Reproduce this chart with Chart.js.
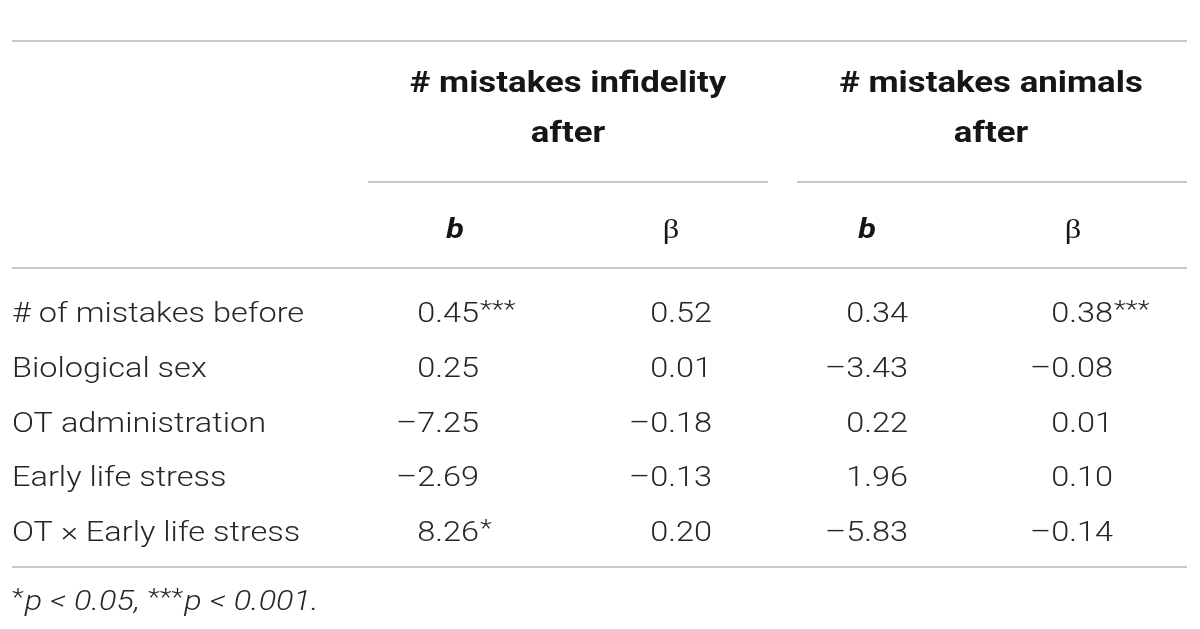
<!DOCTYPE html>
<html><head><meta charset="utf-8">
<script src="https://cdn.jsdelivr.net/npm/chart.js@4.4.1/dist/chart.umd.min.js"></script>
<style>html,body{margin:0;padding:0;background:#fff}#wrap{width:1200px;height:629px;position:relative}</style>
</head><body><div id="wrap"><canvas id="c"></canvas></div>
<script>
// ---------------- data ----------------
const rowLabels = ['# of mistakes before', 'Biological sex', 'OT administration', 'Early life stress', 'OT \u00d7 Early life stress'];
const groupTitles = ['# mistakes infidelity', '# mistakes animals'];
const groupSubtitles = ['after', 'after'];
const columnHeaders = ['b', '\u03b2', 'b', '\u03b2'];
const bInfidelity    = [0.45, 0.25, -7.25, -2.69, 8.26];
const betaInfidelity = [0.52, 0.01, -0.18, -0.13, 0.20];
const bAnimals       = [0.34, -3.43, 0.22, 1.96, -5.83];
const betaAnimals    = [0.38, -0.08, 0.01, 0.10, -0.14];
const sigBInfidelity    = ['***', '', '', '', '*'];
const sigBetaInfidelity = ['', '', '', '', ''];
const sigBAnimals       = ['', '', '', '', ''];
const sigBetaAnimals    = ['***', '', '', '', ''];
const footnoteParts = [['*', 'sup'], ['p < 0.05, ', 'it'], ['***', 'sup'], ['p < 0.001.', 'it']];

// ---------------- layout ----------------
const W = 1200, H = 629;
const colRight = [479, 712, 908, 1113];
const headCenter = [455, 671, 867, 1073];
const groupCenter = [568, 991];
const groupLine = [[368, 768], [797, 1187]];
const rowBase0 = 322, rowPitch = 54.8;
const labelX = 12;
const ruleY = { top: 41, group: 182, mid: 268, bottom: 567 };
const ruleX = [12, 1187];
const titleBase = 92, subtitleBase = 142, colHeadBase = 238, footBase = 610;

const SX = 1.16; // horizontal text stretch
const FONT_LIGHT = '300 28px Roboto';
const FONT_SUP = '300 24px Roboto';
const FONT_BOLD = '700 30px Roboto';
const FONT_B = 'italic 700 28px Roboto';
const FONT_BETA = '28px "Liberation Serif"';
const FONT_FOOT = 'italic 300 28px Roboto';
const TXT = '#262626', HEAD = '#161616', RULE = '#b5b5b5';

const fmt = v => (v < 0 ? '\u2013' : '') + Math.abs(v).toFixed(2);

const columns = [
  { values: bInfidelity, sig: sigBInfidelity },
  { values: betaInfidelity, sig: sigBetaInfidelity },
  { values: bAnimals, sig: sigBAnimals },
  { values: betaAnimals, sig: sigBetaAnimals }
];

const datasets = columns.map((col, c) => ({
  label: columnHeaders[c],
  data: col.values.map((v, i) => ({ x: colRight[c], y: rowBase0 + i * rowPitch })),
  pointRadius: 0,
  showLine: false
}));
datasets.push({
  label: 'rows',
  data: rowLabels.map((l, i) => ({ x: labelX, y: rowBase0 + i * rowPitch })),
  pointRadius: 0,
  showLine: false
});

function textS(ctx, t, x, y, align) {
  ctx.save();
  ctx.translate(x, y);
  ctx.scale(SX, 1);
  ctx.textAlign = align;
  ctx.fillText(t, 0, 0);
  ctx.restore();
  return ctx.measureText(t).width * SX;
}

const tablePlugin = {
  id: 'table',
  afterDatasetsDraw(chart) {
    const ctx = chart.ctx;
    const xs = chart.scales.x, ys = chart.scales.y;
    const px = v => xs.getPixelForValue(v), py = v => ys.getPixelForValue(v);
    ctx.save();
    ctx.strokeStyle = RULE; ctx.lineWidth = 1.5;
    const hline = (x0, x1, y) => { ctx.beginPath(); ctx.moveTo(px(x0), py(y)); ctx.lineTo(px(x1), py(y)); ctx.stroke(); };
    hline(ruleX[0], ruleX[1], ruleY.top);
    groupLine.forEach(g => hline(g[0], g[1], ruleY.group));
    hline(ruleX[0], ruleX[1], ruleY.mid);
    hline(ruleX[0], ruleX[1], ruleY.bottom);
    ctx.textBaseline = 'alphabetic';
    ctx.fillStyle = HEAD; ctx.font = FONT_BOLD;
    groupTitles.forEach((t, g) => {
      textS(ctx, t, px(groupCenter[g]), py(titleBase), 'center');
      textS(ctx, groupSubtitles[g], px(groupCenter[g]), py(subtitleBase), 'center');
    });
    columnHeaders.forEach((h, c) => {
      ctx.font = h === 'b' ? FONT_B : FONT_BETA;
      textS(ctx, h, px(headCenter[c]), py(colHeadBase), 'center');
    });
    ctx.fillStyle = TXT;
    columns.forEach((col, c) => {
      const meta = chart.getDatasetMeta(c);
      meta.data.forEach((pt, i) => {
        ctx.font = FONT_LIGHT;
        textS(ctx, fmt(col.values[i]), pt.x, pt.y, 'right');
        if (col.sig[i]) {
          ctx.font = FONT_SUP;
          textS(ctx, col.sig[i], pt.x + 1, pt.y - 5, 'left');
        }
      });
    });
    const rmeta = chart.getDatasetMeta(columns.length);
    ctx.font = FONT_LIGHT;
    rmeta.data.forEach((pt, i) => textS(ctx, rowLabels[i], pt.x, pt.y, 'left'));
    let fx = px(labelX);
    footnoteParts.forEach(([t, kind]) => {
      ctx.font = kind === 'sup' ? FONT_SUP : FONT_FOOT;
      const dy = kind === 'sup' ? -5 : 0;
      fx += textS(ctx, t, fx, py(footBase) + dy, 'left') + (kind === 'sup' ? 1 : 0);
    });
    ctx.restore();
  }
};

function build() {
  new Chart(document.getElementById('c'), {
    type: 'scatter',
    data: { datasets },
    options: {
      responsive: true, maintainAspectRatio: false, animation: false,
      layout: { padding: 0 },
      plugins: { legend: { display: false }, tooltip: { enabled: false } },
      scales: {
        x: { type: 'linear', min: 0, max: W, display: false },
        y: { type: 'linear', min: 0, max: H, reverse: true, display: false }
      }
    },
    plugins: [tablePlugin]
  });
}
Promise.all([FONT_LIGHT, FONT_BOLD, FONT_B, FONT_BETA, FONT_FOOT, FONT_SUP].map(f => document.fonts.load(f, 'ab\u03b2\u20130')))
  .then(build, build);
</script></body></html>
